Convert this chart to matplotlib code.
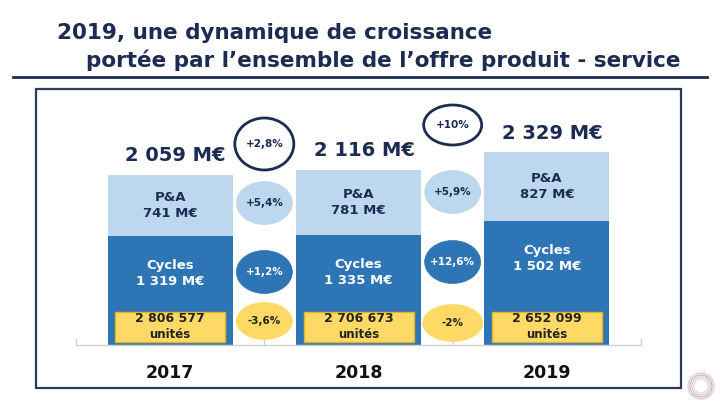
import matplotlib

matplotlib.use("Agg")
import matplotlib.pyplot as plt
from matplotlib.patches import Ellipse, Rectangle, Circle
from matplotlib.lines import Line2D

plt.rcParams["font.family"] = ["DejaVu Sans"]

# données (M€)
ANNEES = ["2017", "2018", "2019"]
CYCLES = [1319, 1335, 1502]
PA = [741, 781, 827]
TOTAL = [2059, 2116, 2329]
UNITES = ["2 806 577", "2 706 673", "2 652 099"]
EVOL_TOTAL = ["+2,8%", "+10%"]
EVOL_PA = ["+5,4%", "+5,9%"]
EVOL_CYCLES = ["+1,2%", "+12,6%"]
EVOL_UNITES = ["-3,6%", "-2%"]

NAVY = "#1b2b52"
BLEU_CLAIR = "#bdd7ee"
BLEU = "#2e75b6"
JAUNE = "#ffd966"
JAUNE_BORD = "#e8b422"

W, H = 720, 405
YMAX = 3000


def fmt(v):
    return f"{v:,}".replace(",", " ") + " M€"


def px(x, y):
    """Pixel (origine en haut à gauche) -> coordonnées figure."""
    return x / W, 1 - y / H


fig = plt.figure(figsize=(7.2, 4.05), dpi=100)
fig.patch.set_facecolor("white")

# titre
fig.text(*px(57, 33), "2019, une dynamique de croissance", fontsize=15.5,
         fontweight="bold", color=NAVY, va="center", ha="left")
fig.text(*px(86, 60), "portée par l’ensemble de l’offre produit - service",
         fontsize=15.5, fontweight="bold", color=NAVY, va="center", ha="left")
fig.add_artist(Line2D([13 / W, 707 / W], [1 - 77 / H] * 2, color=NAVY, lw=2))

# cadre
fig.add_artist(Rectangle(px(36, 388), (681 - 36) / W, (388 - 89) / H,
                         fill=False, edgecolor="#2b3a5e", lw=1.6))

# logo
for r, c in [(13, "#c9c9c9"), (11, "#d8a0a0"), (9, "#c9c9c9"), (7, "#dddddd")]:
    fig.add_artist(Circle((701 / 100, (H - 386) / 100), r / 100, fill=False,
                          edgecolor=c, lw=0.8, transform=fig.dpi_scale_trans))

# axe principal
x0, x1, y_top, y_base = 76, 641, 97, 345
ax = fig.add_axes([x0 / W, 1 - y_base / H, (x1 - x0) / W, (y_base - y_top) / H])
ax.set_xlim(-0.5, 2.5)
ax.set_ylim(0, YMAX)
ax.patch.set_alpha(0)
for s in ["top", "left", "right"]:
    ax.spines[s].set_visible(False)
ax.spines["bottom"].set_color("#d0d0d0")
ax.spines["bottom"].set_linewidth(1)
ax.set_yticks([])
ax.set_xticks([-0.5, 0.5, 1.5, 2.5])
ax.set_xticklabels([])
ax.tick_params(axis="x", which="major", direction="in", length=5,
               color="#d0d0d0", width=1)
ax.set_xticks(range(3), minor=True)
ax.set_xticklabels(ANNEES, minor=True, fontsize=12.5, fontweight="bold",
                   color="#111111")
ax.tick_params(axis="x", which="minor", length=0, pad=14)

# échelles px -> données
sx = (x1 - x0) / 3.0
sy = (y_base - y_top) / YMAX

xs = list(range(3))
largeur = 125 / sx
ax.bar(xs, CYCLES, width=largeur, color=BLEU, zorder=2)
ax.bar(xs, PA, width=largeur, bottom=CYCLES, color=BLEU_CLAIR, zorder=2)

for i in xs:
    # total
    ax.annotate(fmt(TOTAL[i]), (i, TOTAL[i]), xytext=(4, 14),
                textcoords="offset points", ha="center", va="center",
                fontsize=14, fontweight="bold", color=NAVY)
    # P&A
    ax.text(i, CYCLES[i] + PA[i] / 2, f"P&A\n{fmt(PA[i])}", ha="center",
            va="center", fontsize=9.5, fontweight="bold", color=NAVY,
            linespacing=1.3, zorder=3)
    # Cycles
    ax.annotate(f"Cycles\n{fmt(CYCLES[i])}", (i, CYCLES[i]), xytext=(0, -27),
                textcoords="offset points", ha="center", va="center",
                fontsize=9.5, fontweight="bold", color="white",
                linespacing=1.3, zorder=3)
    # unités
    ax.add_patch(Rectangle((i - 55 / sx, 3 / sy), 110 / sx, 30 / sy,
                           facecolor=JAUNE, edgecolor=JAUNE_BORD, lw=1,
                           zorder=3))
    ax.text(i, 26 / sy, UNITES[i], ha="center", va="center",
            fontsize=9, fontweight="bold", color="#222222", zorder=4)
    ax.text(i, 10 / sy, "unités", ha="center", va="center",
            fontsize=8.5, fontweight="semibold", color="#222222", zorder=4)

# bulles d'évolution (position y en px au-dessus de la base, taille en px)
bulles = [
    (EVOL_TOTAL, [(201, 59, 52), (220, 58, 40)], "white", NAVY, NAVY),
    (EVOL_PA, [(142, 56, 43), (153, 56, 43)], BLEU_CLAIR, BLEU_CLAIR, NAVY),
    (EVOL_CYCLES, [(73, 56, 43), (83, 56, 43)], BLEU, BLEU, "white"),
    (EVOL_UNITES, [(24, 56, 37), (22, 60, 37)], JAUNE, JAUNE, "#222222"),
]
for textes, geo, fc, ec, tc in bulles:
    for k, (lab, (yc, w, h)) in enumerate(zip(textes, geo)):
        xc = k + 0.5
        ax.add_patch(Ellipse((xc, yc / sy), w / sx, h / sy, facecolor=fc,
                             edgecolor=ec, lw=2 if ec == NAVY else 0.5,
                             zorder=3))
        ax.text(xc, yc / sy, lab, ha="center", va="center", fontsize=7.5,
                fontweight="bold", color=tc, zorder=4)

fig.savefig("out.png", dpi=100)
